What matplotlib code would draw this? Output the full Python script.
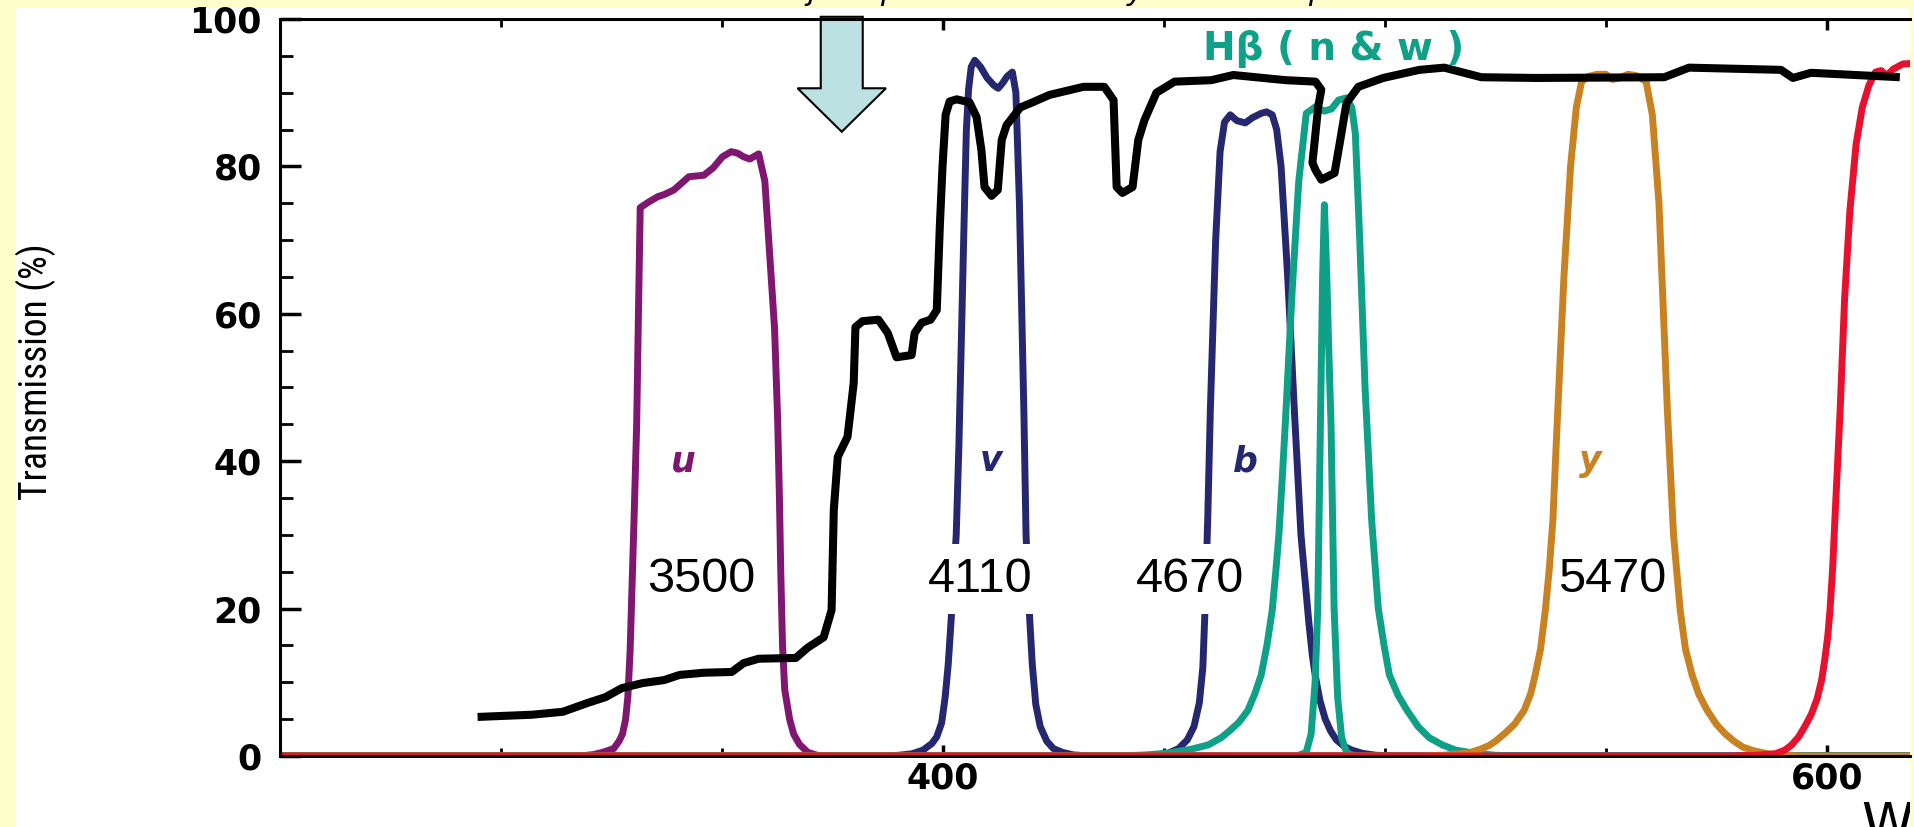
import matplotlib.pyplot as plt
from matplotlib.patches import Rectangle, FancyArrow
from matplotlib.ticker import MultipleLocator

# filter transmission curves: wavelength (nm), transmission (%)
u_wl = [250, 318, 321, 323, 325.5, 326.7, 327.5, 328.2, 328.7, 329.2, 329.5, 330.1, 330.7, 331.1,
        331.5, 333.5, 335.5, 337, 339.1, 341, 342.5, 345.9, 348, 350.1, 352.1, 353.5, 354.9,
        356.3, 358.3, 359.7, 360.8, 361.9, 362.6, 363.0, 363.3, 363.7, 364.2, 365.3, 366.2,
        367.5, 369.4, 371.5, 374, 620]
u_T = [0, 0, 0.2, 0.5, 1, 2, 3, 5, 8, 14, 20, 32, 45, 60,
       74.4, 75.2, 75.9, 76.2, 76.8, 77.8, 78.6, 78.8, 79.8, 81.3, 82.0, 81.8, 81.3,
       81.0, 81.7, 78, 68, 58, 45.6, 35, 25, 15, 9, 5, 3,
       1.6, 0.5, 0.1, 0, 0]

v_wl = [250, 386, 390, 393, 395.5, 397.5, 398.6, 399.7, 400.5, 401.2, 401.8, 402.4, 403, 403.6,
        404.3, 404.8, 405.3, 405.8, 406.4, 407.2, 408.5, 410, 411.5, 412.5, 413.5, 414.5, 415.7,
        416.5, 417.3, 418.3, 418.8, 419.5, 420.2, 421, 422, 423.5, 425, 427, 429.5, 433, 620]
v_T = [0, 0, 0.1, 0.3, 0.8, 1.7, 2.6, 4.5, 8, 12.5, 18, 24, 30, 42,
       60, 73, 85, 90.5, 93.5, 94.4, 93.5, 92, 91, 90.6, 91.3, 92.2, 92.8,
       90, 75, 47, 30, 20, 12.5, 7, 4, 2, 1, 0.5, 0.15, 0, 0]

b_wl = [250, 444, 448, 451, 453.3, 455.3, 456.8, 458, 458.8, 459.3, 459.9, 460.5, 461.7, 462.7,
        463.7, 465, 466.5, 468.4, 470, 472, 473.2, 474.5, 475.5, 476.5, 478, 479.5, 481, 482.8,
        483.6, 484.3, 485.3, 486.5, 487.7, 489, 490.8, 492.5, 495, 498, 503, 620]
b_T = [0, 0, 0.1, 0.4, 1, 2.2, 4, 7.2, 12, 20, 32, 47, 70, 82,
       86, 87, 86.2, 85.9, 86.6, 87.2, 87.4, 87, 85, 80, 65, 47, 30, 18,
       13.5, 10.7, 7.5, 5, 3.4, 2.2, 1.3, 0.8, 0.35, 0.1, 0, 0]

hbw_wl = [250, 440, 446, 451, 456, 460, 463, 465, 467, 469, 470.6, 472, 473.3, 474.5, 475.3, 476,
          476.8, 477.5, 479, 480.5, 482.2, 484.3, 486.3, 487.9, 489.5, 491.3, 492.5, 493.3, 494.3,
          495.5, 497, 498.5, 499.8, 501, 503, 505, 507.5, 510, 513, 516, 520, 525, 530, 620]
hbw_T = [0, 0, 0.15, 0.4, 0.9, 1.5, 2.5, 3.5, 4.6, 6.2, 8.5, 11, 15, 19.8, 25, 30,
         38, 45.6, 63, 78, 87.2, 88.1, 87.5, 87.8, 89, 89.3, 88, 84.5, 70,
         50, 32, 20, 15, 11, 8.2, 6.2, 4, 2.5, 1.5, 0.8, 0.4, 0.1, 0, 0]

hbn_wl = [250, 480, 482.2, 483.3, 484.2, 484.8, 485.4, 485.9, 486.3, 486.8, 487.3, 487.8, 488.5,
          489.3, 490.2, 491.3, 493, 620]
hbn_T = [0, 0, 0.5, 3, 10, 20, 45, 65, 74.8, 66, 55, 45, 20,
         8, 2.5, 0.5, 0, 0]

y_wl = [250, 508, 513, 516, 518.9, 521.5, 523.5, 525, 527, 529.3, 531.5, 533, 534, 535.2, 536.3,
        537.2, 538, 539, 540.5, 542, 543.3, 544.5, 546, 548, 550, 551.5, 553, 555, 557, 559.1,
        560.5, 562, 563.9, 565.3, 566.8, 568, 569.5, 571, 572.9, 575, 577, 579, 581, 583.5,
        586.7, 590, 594, 620]
y_T = [0, 0, 0.1, 0.25, 0.4, 0.9, 1.4, 2, 3, 4.3, 6.2, 8.5, 11, 14.5, 19.8,
       25.5, 32, 45.6, 65, 80, 88, 91.5, 92.2, 92.5, 92.5, 91.8, 92, 92.5, 92.3, 91.5,
       87, 75, 47, 30, 19.8, 14.5, 11, 8.4, 6.2, 4.3, 3, 2, 1.2, 0.7,
       0.3, 0.1, 0, 0]

r_wl = [250, 578, 584, 588.3, 590.5, 592, 593.6, 595, 596.5, 597.8, 598.8, 599.5, 600.2, 600.7,
        601.3, 601.8, 603, 604, 605.2, 606.6, 608, 609.5, 611, 612.3, 613.5, 615, 617.2, 620]
r_T = [0, 0, 0.1, 0.3, 0.8, 1.5, 2.6, 4, 5.7, 7.8, 10.3, 13, 16.3, 19.8,
       25.5, 32, 47, 62, 74, 83, 88, 91, 92.8, 93, 92.3, 93.2, 93.9, 94]

# black transmission curve
glass_wl = [294.7, 307, 314, 319.6, 323.7, 327.3, 332.1, 336.9, 340.4, 345.9, 352.2, 354.9, 358.3,
            366.7, 369.4, 373.0, 374.8, 375.3, 376.2, 378.4, 379.1, 379.8, 380.2, 381.8, 385.4,
            387.5, 389.5, 392.9, 393.6, 395.2, 397.2, 398.6, 399.3, 399.9, 400.6, 401.5, 403.1,
            406.0, 407.6, 408.7, 409.4, 411.0, 412.4, 413.3, 414.4, 415.7, 417.5, 420.3, 424.1,
            431.8, 436.5, 438.6, 439.3, 440.6, 442.9, 444.2, 445.6, 448.3, 452.4, 460.7, 465.7,
            477.5, 484.3, 485.6, 484.9, 483.6, 484.3, 485.6, 488.6, 489.9, 491.3, 494.0, 499.6,
            507.8, 513.4, 521.8, 534.2, 563.2, 568.8, 589.6, 592.3, 596.4, 616.5]
glass_T = [5.3, 5.6, 6.0, 7.2, 8.0, 9.2, 9.9, 10.3, 11.0, 11.3, 11.4, 12.6, 13.2,
           13.3, 14.7, 16.1, 19.8, 33.4, 40.6, 43.3, 46.9, 50.6, 58.2, 59.0, 59.2,
           57.4, 54.1, 54.4, 57.4, 58.8, 59.2, 60.5, 72, 80, 87, 88.8, 89.1,
           88.7, 86.7, 82.2, 77.2, 76.0, 76.8, 83.6, 85.6, 86.6, 88.0, 88.7, 89.7,
           90.8, 90.8, 89.0, 77.2, 76.4, 77.2, 83.6, 86.3, 90.0, 91.5, 91.7, 92.4,
           91.7, 91.5, 90.4, 88.1, 80.5, 79.5, 78.2, 79.1, 83.6, 88.6, 90.8, 92.0,
           93.1, 93.4, 92.1, 92.0, 92.1, 93.4, 93.1, 92.0, 92.7, 92.1]

band_names = ['u', 'v', 'b', 'y']
band_label_wl = [341.3, 411, 468.4, 546.5]
band_colors = ['#7F1670', '#25286E', '#25286E', '#C98222']

center_labels = ['3500', '4110', '4670', '5470']
center_label_wl = [345.2, 408.5, 456, 551.4]
center_label_box = [False, True, True, False]

W, H = 1915, 827
fig = plt.figure(figsize=(W / 100, H / 100), dpi=100, facecolor='#FFFFCC')
bg = Rectangle((15 / W, 0), (1910 - 15) / W, (H - 8) / H, transform=fig.transFigure,
               facecolor='white', edgecolor='none', zorder=-10)
fig.patches.append(bg)

ax = fig.add_axes([280 / W, 71 / H, 1630 / W, 737 / H])
ax.set_facecolor('white')

lw = 5
style = dict(lw=lw, solid_joinstyle='round')
ax.plot(u_wl, u_T, color='#7F1670', **style)
ax.plot(v_wl, v_T, color='#25286E', **style)
ax.plot(b_wl, b_T, color='#25286E', **style)
ax.plot(hbw_wl, hbw_T, color='#0FA088', **style)
ax.plot(hbn_wl, hbn_T, color='#0FA088', **style)
ax.plot(y_wl, y_T, color='#C98222', **style)
ax.plot(r_wl, r_T, color='#E8112D', **style)
ax.plot(glass_wl, glass_T, color='black', lw=5.8, solid_capstyle='butt',
        solid_joinstyle='round', zorder=4)

for name, wl, c in zip(band_names, band_label_wl, band_colors):
    ax.text(wl, 40, name, color=c, fontsize=25, style='italic', weight='bold',
            ha='center', va='center')

ax.text(488.4, 95.9, 'H\u03b2 ( n & w )', color='#0FA088', fontsize=28, weight='bold',
        ha='center', va='center')

for lab, wl, boxed in zip(center_labels, center_label_wl, center_label_box):
    box = dict(boxstyle='square,pad=0.25', facecolor='white', edgecolor='none') if boxed else None
    ax.text(wl, 24, lab, fontsize=35, family='Liberation Sans', ha='center', va='center',
            bbox=box, zorder=6)

ax.add_patch(FancyArrow(377.1, 100.3, 0, -15.6, width=9.5, head_width=20, head_length=5.9,
                        length_includes_head=True, facecolor='#BCE1E3', edgecolor='black',
                        lw=1.5, clip_on=False, zorder=7))

ax.set_xlim(250, 618.8)
ax.set_ylim(0, 100)
ax.xaxis.set_major_locator(MultipleLocator(200))
ax.xaxis.set_minor_locator(MultipleLocator(50))
ax.yaxis.set_major_locator(MultipleLocator(20))
ax.yaxis.set_minor_locator(MultipleLocator(5))
ax.tick_params(which='both', direction='in', top=True, right=False, labelsize=25)
ax.tick_params(axis='y', which='major', length=15, width=2.5, pad=13)
ax.tick_params(axis='y', which='minor', length=9, width=2)
ax.tick_params(axis='x', which='major', length=8, width=2.5, pad=4)
ax.tick_params(axis='x', which='minor', length=6, width=2)
for t in ax.get_xticklabels() + ax.get_yticklabels():
    t.set_fontweight('bold')
ax.spines['right'].set_visible(False)
for s in ['left', 'bottom', 'top']:
    ax.spines[s].set_linewidth(2.2)
    ax.spines[s].set_zorder(8)

fig.text(36 / W, 1 - 372 / H, 'Transmission (%)', rotation=90, fontsize=27,
         family=['Liberation Sans Narrow', 'Roboto Condensed', 'DejaVu Sans Condensed', 'Roboto'],
         ha='center', va='center')
xl = fig.text(1862 / W, 1 - 800 / H, 'Wavelength (nm)', fontsize=38,
              ha='left', va='top')
xl.set_clip_path(bg)

# descenders of the slide title that sits above the cropped picture
for ch, x, ha in [('j', 812, 'center'), ('p', 880, 'left'), ('y', 1136, 'center'), ('p', 1308, 'left')]:
    fig.text(x / W, 1.0, ch, fontsize=22, style='italic', ha=ha, va='baseline')

fig.savefig('out.png', dpi=100)
